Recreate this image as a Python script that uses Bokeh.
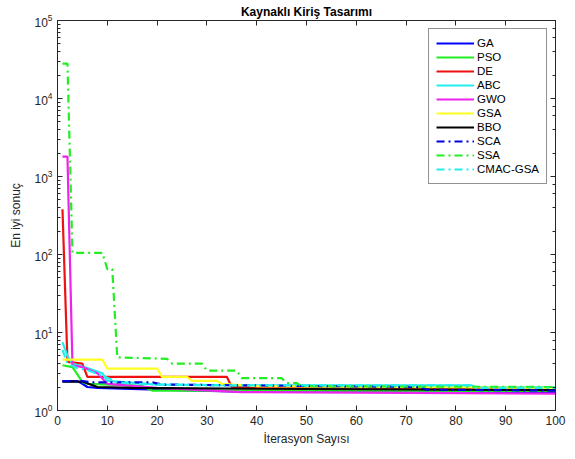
from bokeh.plotting import figure
from bokeh.models import (Range1d, LinearAxis, LogAxis, FixedTicker, LogTicker,
                          Legend, LegendItem)
from bokeh.embed import file_html
from bokeh.resources import INLINE

title_text = "Kaynaklı Kiriş Tasarımı"
x_label = "İterasyon Sayısı"
y_label = "En iyi sonuç"
x_ticks = [0, 10, 20, 30, 40, 50, 60, 70, 80, 90, 100]

ga_x = [1, 4, 5, 6, 8, 20, 37, 100]
ga_y = [2.38, 2.38, 2.2, 2.0, 1.95, 1.85, 1.75, 1.72]

pso_x = [1, 3, 4, 5, 6, 15, 17, 19, 100]
pso_y = [3.8, 3.6, 2.9, 2.3, 2.2, 2.1, 2.05, 1.8, 1.78]

de_x = [1, 2, 5, 6, 34, 35, 100]
de_y = [380, 4.2, 4.0, 2.7, 2.7, 2.0, 1.9]

abc_x = [1, 2, 3, 6, 9, 10, 20, 40, 83, 84, 100]
abc_y = [7.5, 5.0, 4.0, 3.5, 3.0, 2.4, 2.15, 2.1, 2.1, 2.0, 2.0]

gwo_x = [1, 2, 3, 5, 8, 10, 20, 37, 100]
gwo_y = [1800, 1800, 3.8, 3.6, 3.0, 2.2, 1.95, 1.72, 1.65]

gsa_x = [1, 9, 10, 20, 21, 26, 27, 32, 33, 40, 100]
gsa_y = [4.5, 4.5, 3.45, 3.45, 2.7, 2.7, 2.4, 2.4, 2.2, 2.05, 1.95]

bbo_x = [1, 5, 8, 15, 40, 100]
bbo_y = [2.35, 2.35, 2.0, 1.95, 1.9, 1.82]

sca_x = [1, 5, 7, 19, 21, 73, 74, 100]
sca_y = [2.38, 2.38, 2.3, 2.3, 2.15, 2.0, 1.85, 1.8]

ssa_x = [1, 2, 3, 9, 10, 11, 12, 22, 23, 29, 30, 36, 37, 45, 46, 48, 49, 100]
ssa_y = [28000, 28000, 105, 105, 65, 65, 4.8, 4.6, 4.0, 4.0, 3.25, 3.25, 2.6, 2.6,
         2.25, 2.25, 2.05, 2.0]

cmac_x = [1, 2, 4, 6, 9, 12, 15, 30, 83, 84, 100]
cmac_y = [6.0, 4.0, 3.5, 3.3, 2.8, 2.3, 2.2, 2.1, 2.1, 1.95, 1.95]

series = [
    ("GA", ga_x, ga_y, "#0000FF", "solid"),
    ("PSO", pso_x, pso_y, "#22EE22", "solid"),
    ("DE", de_x, de_y, "#EE1111", "solid"),
    ("ABC", abc_x, abc_y, "#22EEEE", "solid"),
    ("GWO", gwo_x, gwo_y, "#EE22EE", "solid"),
    ("GSA", gsa_x, gsa_y, "#FFFF22", "solid"),
    ("BBO", bbo_x, bbo_y, "#000000", "solid"),
    ("SCA", sca_x, sca_y, "#0000DD", "8 4 2 4"),
    ("SSA", ssa_x, ssa_y, "#22EE22", "8 4 2 4"),
    ("CMAC-GSA", cmac_x, cmac_y, "#22EEEE", "8 4 2 4"),
]

FONT = "Liberation Sans"
AX = "#262626"

p = figure(width=575, height=459, y_axis_type="log",
           x_range=Range1d(0, 100), y_range=Range1d(1, 1e5),
           output_backend="svg", toolbar_location=None,
           min_border_left=57, min_border_right=20, min_border_top=20,
           min_border_bottom=49)
p.title.text = title_text
p.title.align = "center"
p.title.text_font = FONT
p.title.text_font_size = "12px"
p.title.text_font_style = "bold"
p.title.text_color = "#000000"
p.title.standoff = 4
p.title.offset = 0
p.grid.visible = False
p.outline_line_color = AX
p.outline_line_width = 1

renderers = []
for name, xs, ys, col, dash in series:
    r = p.line(xs, ys, line_color=col, line_width=2.2, line_dash=dash)
    renderers.append((name, r))

for ax in [p.xaxis[0], p.yaxis[0]]:
    ax.axis_line_color = AX
    ax.major_tick_line_color = AX
    ax.minor_tick_line_color = AX
    ax.major_tick_in = 5
    ax.major_tick_out = 0
    ax.minor_tick_in = 3
    ax.minor_tick_out = 0
    ax.major_label_text_font = FONT
    ax.major_label_text_font_size = "12px"
    ax.major_label_text_color = AX
    ax.axis_label_text_font = FONT
    ax.axis_label_text_font_size = "12px"
    ax.axis_label_text_font_style = "normal"
    ax.axis_label_text_color = AX

p.xaxis[0].ticker = FixedTicker(ticks=x_ticks)
p.xaxis[0].minor_tick_line_color = None
p.xaxis[0].axis_label = x_label
p.xaxis[0].axis_label_standoff = 4
p.yaxis[0].axis_label = y_label
p.yaxis[0].axis_label_standoff = 8

top = LinearAxis(ticker=FixedTicker(ticks=x_ticks), major_label_text_font_size="1px",
                 major_label_text_color=None,
                 major_tick_in=5, major_tick_out=0, minor_tick_line_color=None,
                 axis_line_color=AX, major_tick_line_color=AX, major_label_standoff=0)
right = LogAxis(ticker=LogTicker(), major_label_text_font_size="1px",
                major_label_text_color=None,
                major_tick_in=5, major_tick_out=0, minor_tick_in=3, minor_tick_out=0,
                axis_line_color=AX, major_tick_line_color=AX, minor_tick_line_color=AX,
                major_label_standoff=0)
p.add_layout(top, "above")
p.add_layout(right, "right")

legend = Legend(items=[LegendItem(label=n, renderers=[r]) for n, r in renderers],
                location="top_right")
legend.label_text_font = FONT
legend.label_text_font_size = "11.5px"
legend.label_text_color = "#000000"
legend.label_height = 14
legend.glyph_height = 14
legend.glyph_width = 38
legend.spacing = 0
legend.padding = 7
legend.margin = 8
legend.label_standoff = 3
legend.border_line_color = AX
legend.border_line_width = 1
legend.background_fill_alpha = 1
p.add_layout(legend, "center")

open("out.html", "w").write(file_html(p, INLINE))
